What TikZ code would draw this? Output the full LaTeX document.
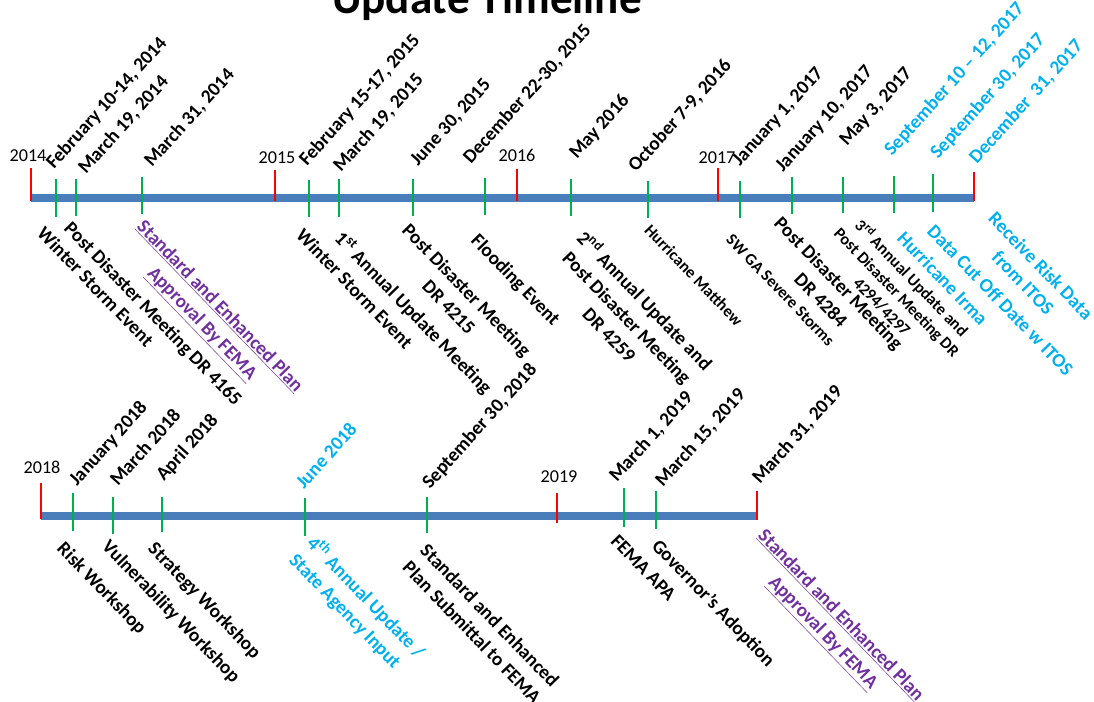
\documentclass[tikz,border=0pt]{standalone}
\usepackage{fontspec}
\setmainfont{Carlito}
\usetikzlibrary{positioning}
\definecolor{axisblue}{RGB}{74,126,187}
\definecolor{eventgreen}{RGB}{0,176,80}
\definecolor{itosblue}{RGB}{0,176,240}
\definecolor{femapurple}{RGB}{112,48,160}
\tikzset{
	x=0.03cm, y=-0.03cm,
	axis/.style={axisblue, line width=6pt},
	yeartick/.style={red, line width=2.4pt},
	eventtick/.style={eventgreen, line width=2.4pt},
	yearlabel/.style={font=\fontsize{15.5}{18}\selectfont, anchor=base, inner sep=0pt},
	date/.style={font=\fontsize{16.5}{20}\selectfont\bfseries, rotate=48, anchor=base west, inner sep=0pt},
	event/.style={font=\fontsize{16.5}{21}\selectfont\bfseries, rotate=-46, anchor=north west, align=center, inner sep=0pt},
	small/.style={font=\fontsize{14}{17.5}\selectfont\bfseries},
	itos/.style={text=itosblue},
	fema/.style={text=femapurple},
	title/.style={font=\fontsize{38.5}{40}\selectfont\bfseries, anchor=base, inner sep=0pt}
}

\begin{document}
\begin{tikzpicture}
	\useasboundingbox (0,0) rectangle (1094,702);
	\node[title] (title) at (487,14) {Update Timeline};

	\coordinate (a14) at (31,198);
	\coordinate (a17) at (974,198);
	\coordinate (a18) at (41,516);
	\coordinate (a19) at (757,516);
	\draw[axis] (a14) -- (a17);
	\draw[axis] (a18) -- (a19);

	\draw[yeartick]
	(31,168) -- (31,201) (275,170) -- (275,201) (517,169) -- (517,201)
	(718,168) -- (718,201) (974,172) -- (974,201)
	(41,483) -- (41,519) (557,493) -- (557,523) (757,491) -- (757,520);
	\draw[eventtick]
	(56,179) -- (56,217) (76,179) -- (76,216) (142,177) -- (142,214)
	(309,180) -- (309,217) (339,179) -- (339,217) (413,179) -- (413,216)
	(485,178) -- (485,215) (571,179) -- (571,216) (648,181) -- (648,218)
	(740,181) -- (740,218) (792,177) -- (792,214) (843,177) -- (843,213)
	(894,176) -- (894,213) (933,174) -- (933,212)
	(73,493) -- (73,531) (113,497) -- (113,534) (162,497) -- (162,532)
	(305,498) -- (305,536) (427,497) -- (427,533) (624,488) -- (624,527)
	(656,491) -- (656,529);

	\node[yearlabel] (y14) at (28,161) {2014};
	\node[yearlabel] (y15) at (277,163) {2015};
	\node[yearlabel] (y16) at (517,161) {2016};
	\node[yearlabel] (y17) at (717,163) {2017};
	\node[yearlabel] (y18) at (42,473) {2018};
	\node[yearlabel] (y19) at (559,482) {2019};

	\node[date] (d1) at (54,170) {February 10-14, 2014};
	\node[date] (d2) at (86,175) {March 19, 2014};
	\node[date] (d3) at (152,168) {March 31, 2014};
	\node[date] (d4) at (307,167) {February 15-17, 2015};
	\node[date] (d5) at (341,173) {March 19, 2015};
	\node[date] (d6) at (418,167) {June 30, 2015};
	\node[date] (d7) at (471,165) {December 22-30, 2015};
	\node[date] (d8) at (577,160) {May 2016};
	\node[date] (d9) at (636,173) {October 7-9, 2016};
	\node[date] (d10) at (740,167) {January 1, 2017};
	\node[date] (d11) at (783,173) {January 10, 2017};
	\node[date] (d12) at (847,147) {May 3, 2017};
	\node[date, itos] (d13) at (892,157) {September 10 -- 12, 2017};
	\node[date, itos] (d14) at (938,160) {September 30, 2017};
	\node[date, itos] (d15) at (977,165) {December\ \ 31, 2017};
	\node[date] (d16) at (77,487) {January 2018};
	\node[date] (d17) at (118,487) {March 2018};
	\node[date] (d18) at (164,482) {April 2018};
	\node[date, itos] (d19) at (304,490) {June 2018};
	\node[date] (d20) at (430,490) {September 30, 2018};
	\node[date] (d21) at (617,483) {March 1, 2019};
	\node[date] (d22) at (663,488) {March 15, 2019};
	\node[date] (d23) at (760,485) {March 31, 2019};

	\node[event] (e1) at (46,225) {Winter Storm Event};
	\node[event] (e2) at (73,220) {Post Disaster Meeting DR 4165};
	\node[event, fema] (e3) at (146,218) {\underline{Standard and Enhanced Plan}\\\underline{Approval By FEMA}};
	\node[event] (e4) at (305,227) {Winter Storm Event};
	\node[event] (e5) at (345,228) {1\textsuperscript{st} Annual Update Meeting};
	\node[event] (e6) at (411,222) {Post Disaster Meeting\\DR 4215};
	\node[event] (e7) at (480,232) {Flooding Event};
	\node[event] (e8) at (588,227) {2\textsuperscript{nd} Annual Update and\\Post Disaster Meeting\\DR 4259};
	\node[event, small] (e9) at (652,223) {Hurricane Matthew};
	\node[event, small] (e10) at (733,233) {SW GA Severe Storms};
	\node[event] (e11) at (783,215) {Post Disaster Meeting\\DR 4284};
	\node[event, small] (e12) at (858,210) {3\textsuperscript{rd} Annual Update and\\Post Disaster Meeting DR\\4294/4297};
	\node[event, itos] (e13) at (906,230) {Hurricane Irma};
	\node[event, itos] (e14) at (936,223) {Data Cut Off Date w ITOS};
	\node[event, itos] (e15) at (997,210) {Receive Risk Data\\from ITOS};
	\node[event] (e16) at (66,540) {Risk Workshop};
	\node[event] (e17) at (111,538) {Vulnerability Workshop};
	\node[event] (e18) at (157,540) {Strategy Workshop};
	\node[event, itos, align=left] (e19) at (318,532) {4\textsuperscript{th} Annual Update /\\State Agency Input};
	\node[event, align=left] (e20) at (429,542) {Standard and Enhanced\\Plan Submittal to FEMA};
	\node[event] (e21) at (619,533) {FEMA APA};
	\node[event] (e22) at (661,537) {Governor’s Adoption};
	\node[event, fema] (e23) at (767,527) {\underline{Standard and Enhanced Plan}\\\underline{Approval By FEMA}};
\end{tikzpicture}
\end{document}
